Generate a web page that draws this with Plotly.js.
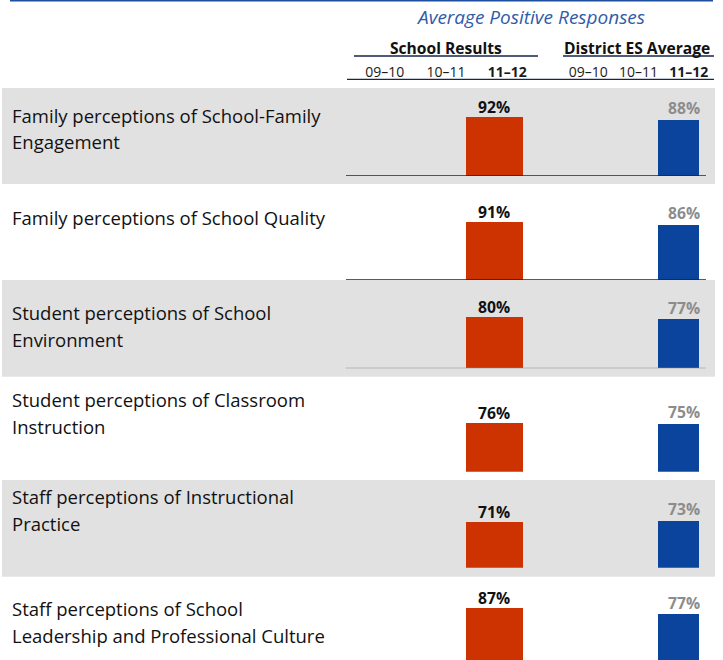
<!DOCTYPE html>
<html><head><meta charset="utf-8">
<script src="https://cdn.plot.ly/plotly-3.0.1.min.js"></script>
<style>html,body{margin:0;padding:0;background:#fff;overflow:hidden}</style>
</head>
<body>
<div id="chart" style="width:723px;height:660px"></div>
<script>
// ---------- data ----------
const categories = [
  'Family perceptions of School-Family<br>Engagement',
  'Family perceptions of School Quality',
  'Student perceptions of School<br>Environment',
  'Student perceptions of Classroom<br>Instruction',
  'Staff perceptions of Instructional<br>Practice',
  'Staff perceptions of School<br>Leadership and Professional Culture'
];
const schoolValues   = [92, 91, 80, 76, 71, 87];
const districtValues = [88, 86, 77, 75, 73, 77];
const years = ['09–10', '10–11', '11–12'];
const groupTitles = ['School Results', 'District ES Average'];
const chartTitle = 'Average Positive Responses';

// ---------- layout / style ----------
const W = 723, H = 660;
const px = x => x / W;
const py = y => 1 - y / H;
const FONT = 'Open Sans';
const RED = '#cc3300', BLUE = '#0b449c', NAVY = '#13264d';
const PX_PER_UNIT = 0.64;                      // vertical pixels per percentage point
const rowBands  = [[88,184],[184,280],[280,376.7],[376.7,480],[480,576.7],[576.7,660]];
const shaded    = [true,false,true,false,true,false];
const baselines = [176, 280, 368.3, 471.7, 567.7, 663.5];
const baseColors = [NAVY, NAVY, '#8c8c8c', null, null, null];
const labelCapTops = [[109,135],[211],[306,332.7],[393.3,419.8],[490,516.7],[601.7,629.3]];
const LABEL_SIZE = 18.5, LABEL_CAP = 0.714 * LABEL_SIZE;
const schoolBar   = {offset: -0.674, width: 0.929};
const districtBar = {offset: -0.612, width: 0.815};
const last = years.length - 1;

const traces = [];
const annotations = [];
const shapes = [];
const layout = {
  width: W, height: H,
  margin: {l: 0, r: 0, t: 0, b: 0},
  paper_bgcolor: '#ffffff', plot_bgcolor: 'rgba(0,0,0,0)',
  font: {family: FONT, color: '#111'},
  showlegend: false, hovermode: false,
  bargap: 0
};

const tickText = years.map((y, i) => i === last ? '<b>' + y + '</b>' : y);
const xCommon = {
  type: 'category', categoryorder: 'array', categoryarray: years,
  range: [-0.5, years.length - 0.5],
  anchor: 'free', position: py(79.3), side: 'top',
  showline: false, showgrid: false, zeroline: false, ticks: '',
  tickmode: 'array', tickvals: years, ticktext: tickText,
  tickfont: {family: FONT, size: 14, color: '#1a1a1a'},
  fixedrange: true
};
layout.xaxis  = Object.assign({}, xCommon, {domain: [px(354), px(538)]});
layout.xaxis2 = Object.assign({}, xCommon, {domain: [px(563), px(714)]});

// shaded bands
rowBands.forEach((b, r) => {
  if (shaded[r]) shapes.push({type: 'rect', xref: 'paper', yref: 'paper', layer: 'below',
    x0: px(2), x1: px(715), y0: py(b[1]), y1: py(b[0]), fillcolor: '#e1e1e1', line: {width: 0}});
});
// top rule and header rules
shapes.push({type: 'line', xref: 'paper', yref: 'paper', x0: px(10), x1: px(713), y0: py(0.7), y1: py(0.7), line: {color: '#1f4f9f', width: 1.5}});
shapes.push({type: 'line', xref: 'paper', yref: 'paper', x0: px(354), x1: px(538), y0: py(56), y1: py(56), line: {color: NAVY, width: 1.3}});
shapes.push({type: 'line', xref: 'paper', yref: 'paper', x0: px(563), x1: px(714), y0: py(56), y1: py(56), line: {color: NAVY, width: 1.3}});
shapes.push({type: 'line', xref: 'paper', yref: 'paper', x0: px(347), x1: px(714), y0: py(79.3), y1: py(79.3), line: {color: NAVY, width: 1.3}});

// header texts
annotations.push({xref: 'paper', yref: 'paper', x: px(530.5), y: py(17), xanchor: 'center', yanchor: 'middle',
  text: '<i>' + chartTitle + '</i>', showarrow: false, font: {family: FONT, size: 19, color: '#2f5ca8'}});
[446, 637].forEach((cx, g) => annotations.push({xref: 'paper', yref: 'paper', x: px(cx), y: py(48),
  xanchor: 'center', yanchor: 'middle', text: '<b>' + groupTitles[g] + '</b>', showarrow: false,
  font: {family: FONT, size: 15.6, color: '#111'}}));

// rows
categories.forEach((cat, r) => {
  const yName = r === 0 ? 'y' : 'y' + (r + 1);
  const axKey = r === 0 ? 'yaxis' : 'yaxis' + (r + 1);
  const b = baselines[r];
  const lo = Math.max(0, (b - H) / PX_PER_UNIT);
  const pyLo = b - PX_PER_UNIT * lo, pyHi = b - PX_PER_UNIT * 100;
  layout[axKey] = {domain: [py(pyLo), py(pyHi)], range: [lo, 100], visible: false, fixedrange: true, anchor: 'x'};

  traces.push({type: 'bar', x: [years[last]], y: [schoolValues[r]], xaxis: 'x', yaxis: yName,
    width: [schoolBar.width], offset: [schoolBar.offset], marker: {color: RED, line: {width: 0}}, hoverinfo: 'skip'});
  traces.push({type: 'bar', x: [years[last]], y: [districtValues[r]], xaxis: 'x2', yaxis: yName,
    width: [districtBar.width], offset: [districtBar.offset], marker: {color: BLUE, line: {width: 0}}, hoverinfo: 'skip'});

  annotations.push({xref: 'x', yref: yName, x: last + schoolBar.offset + schoolBar.width / 2, y: schoolValues[r],
    xanchor: 'center', yanchor: 'bottom', yshift: -3, showarrow: false,
    text: '<b>' + schoolValues[r] + '%</b>', font: {family: FONT, size: 15.7, color: '#111'}});
  annotations.push({xref: 'x2', yref: yName, x: last + districtBar.offset + districtBar.width, y: districtValues[r],
    xanchor: 'right', yanchor: 'bottom', yshift: -1.5, xshift: 2.5, showarrow: false,
    text: '<b>' + districtValues[r] + '%</b>', font: {family: FONT, size: 15.7, color: '#8c8c8c'}});

  if (baseColors[r]) shapes.push({type: 'line', xref: 'paper', yref: yName, x0: px(346), x1: px(706), y0: 0, y1: 0,
    line: {color: baseColors[r], width: 1.3}});

  cat.split('<br>').forEach((line, k) => annotations.push({xref: 'paper', yref: 'paper',
    x: px(10), y: py(labelCapTops[r][k] + LABEL_CAP / 2), xanchor: 'left', yanchor: 'middle',
    text: line, showarrow: false, font: {family: FONT, size: LABEL_SIZE, color: '#111'}}));
});

layout.shapes = shapes;
layout.annotations = annotations;
Plotly.newPlot('chart', traces, layout, {displayModeBar: false, staticPlot: true});
</script>
</body></html>
